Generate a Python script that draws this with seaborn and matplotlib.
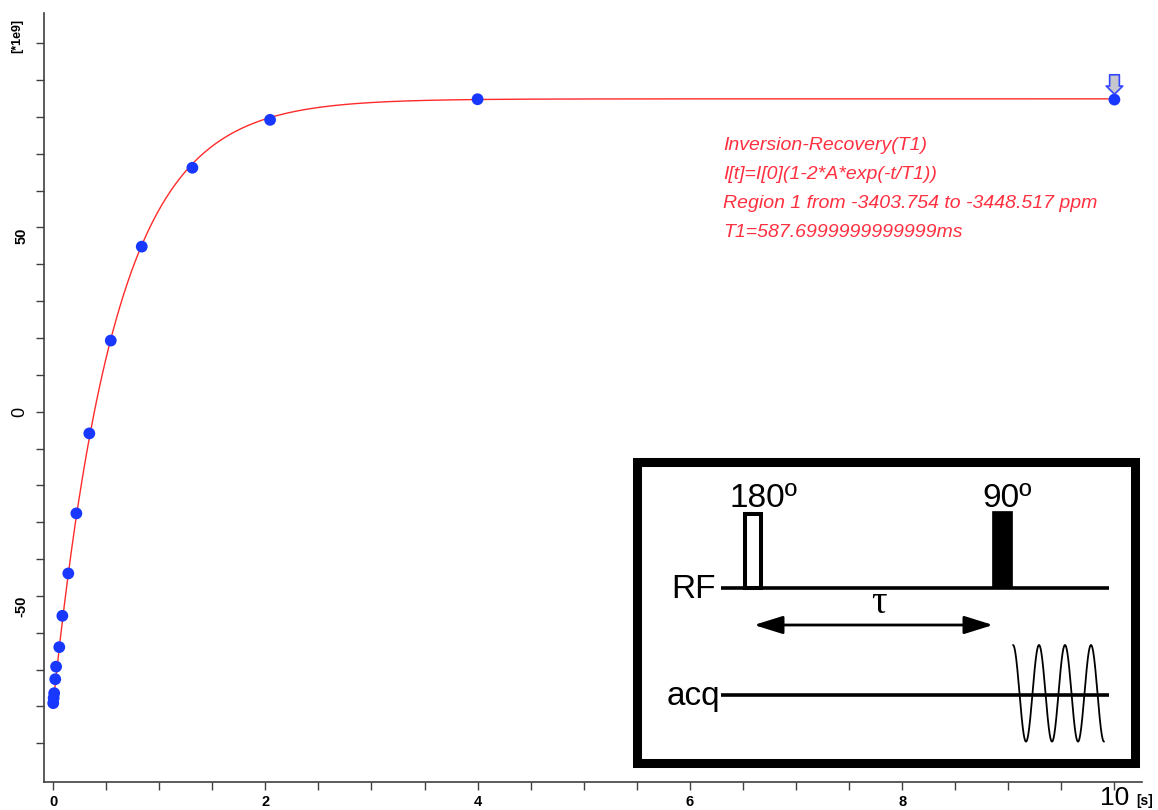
import numpy as np
import matplotlib
matplotlib.use("Agg")
import matplotlib.pyplot as plt
import matplotlib.transforms as mtransforms
from matplotlib.path import Path
from matplotlib.patches import Rectangle, FancyArrowPatch
import seaborn as sns

# Inversion-recovery delays (s) and integrated intensities (x1e9)
delay_s = [0.002, 0.006, 0.011, 0.021, 0.029, 0.059, 0.088, 0.144,
           0.220, 0.342, 0.544, 0.836, 1.313, 2.045, 4.0, 10.0]
intensity = [-79.1, -77.7, -76.4, -72.6, -69.2, -63.9, -55.4, -43.9,
             -27.6, -5.9, 19.3, 44.8, 66.2, 79.2, 84.8, 84.7]

# Fitted model: I[t] = I[0](1 - 2*A*exp(-t/T1))
fit_I0 = 84.9
fit_A = 0.970
fit_T1_s = 0.5877

fit_lines = [
    "Inversion-Recovery(T1)",
    "I[t]=I[0](1-2*A*exp(-t/T1))",
    "Region 1 from -3403.754 to -3448.517 ppm",
    "T1=587.6999999999999ms",
]

x_ticks = np.arange(0, 10.01, 0.5)
x_labelled = [0, 2, 4, 6, 8]
x_last_label = 10
y_ticks = np.arange(-90, 101, 10)
y_labelled = [-50, 0, 50]

sns.set_theme(style="white")
plt.rcParams["font.family"] = ["Liberation Sans", "DejaVu Sans"]
plt.rcParams["text.color"] = "black"

W, H = 1158, 810
fig = plt.figure(figsize=(W / 100, H / 100), dpi=100)


def px_box(x0, y0, x1, y1):
    return [x0 / W, 1 - y1 / H, (x1 - x0) / W, (y1 - y0) / H]


ax = fig.add_axes(px_box(44, 13, 1142, 782))
ax.set_facecolor("white")

# fitted recovery curve and measured points
t_fit = np.linspace(0, max(delay_s), 2000)
I_fit = fit_I0 * (1 - 2 * fit_A * np.exp(-t_fit / fit_T1_s))
sns.lineplot(x=t_fit, y=I_fit, ax=ax, color="#ff2a2a", lw=1.0,
             estimator=None, sort=False)
sns.scatterplot(x=delay_s, y=intensity, ax=ax, s=72, color="#1838ff",
                edgecolor="none", zorder=3)

# cursor arrow above the last point
arrow_path = Path([(-0.5, 1), (0.5, 1), (0.5, -0.16), (0.85, -0.16),
                   (0, -1), (-0.85, -0.16), (-0.5, -0.16), (-0.5, 1)],
                  closed=True)
arrow_trans = mtransforms.offset_copy(ax.transData, fig=fig, x=0, y=16,
                                      units="dots")
ax.plot([delay_s[-1]], [intensity[-1]], ls="none", marker=arrow_path,
        markersize=14, mfc="#c6c6cf", mec="#3446ff", mew=1.2,
        transform=arrow_trans, clip_on=False, zorder=4)

ax.set_xlim(-0.085, 10.26)
ax.set_ylim(-100.5, 108.2)

for side in ("top", "right"):
    ax.spines[side].set_visible(False)
for side in ("left", "bottom"):
    ax.spines[side].set_color("#404040")
    ax.spines[side].set_linewidth(1.2)

ax.set_xticks(x_ticks)
ax.set_xticklabels([("%g" % v) if v in x_labelled else "" for v in x_ticks])
ax.set_yticks(y_ticks)
ax.set_yticklabels([("%g" % v) if v in y_labelled else "" for v in y_ticks],
                   rotation=90)
ax.tick_params(axis="both", which="major", bottom=True, left=True,
               direction="out", length=6, width=1, color="#404040",
               labelsize=10.5, labelcolor="black")
ax.tick_params(axis="x", pad=3)
ax.tick_params(axis="y", pad=5)

for lab in ax.get_xticklabels():
    lab.set_fontweight("bold")

for lab in ax.get_yticklabels():
    if lab.get_text() == "0":
        lab.set_fontsize(13)
        lab.set_fontweight("normal")
        lab.set_va("center")
    else:
        lab.set_fontweight("bold")
        lab.set_va("top")

# end-of-axis label is drawn larger, next to the unit
ax.text(x_last_label, 1 - 805 / H, "%g" % x_last_label, fontsize=19,
        ha="center", va="baseline", clip_on=False,
        transform=mtransforms.blended_transform_factory(ax.transData,
                                                        fig.transFigure))

fig.text(17.5 / W, 1 - 36 / H, "[*1e9]", rotation=90, fontsize=9,
         fontweight="bold", ha="center", va="center")
fig.text(1145 / W, 1 - 801 / H, "[s]", fontsize=10, fontweight="bold",
         ha="center", va="center")

# fit report
for i, line in enumerate(fit_lines):
    fig.text(723 / W, 1 - (146 + 28.7 * i) / H, line, color="#ff3040",
             fontsize=14, style="italic", ha="left", va="center")

# pulse-sequence diagram
ins = fig.add_axes(px_box(628, 453, 1144, 772))
ins.set_xlim(628, 1144)
ins.set_ylim(772, 453)
ins.axis("off")

ins.add_patch(Rectangle((637.2, 462.2), 1134.5 - 637.2, 762.5 - 462.2,
                        fc="white", ec="black", lw=6.5, joinstyle="miter"))

rf_y, acq_y = 588.3, 695.0
ins.plot([720.7, 1109], [rf_y, rf_y], color="black", lw=2.6,
         solid_capstyle="butt")
ins.plot([720.7, 1109], [acq_y, acq_y], color="black", lw=2.6,
         solid_capstyle="butt")

ins.add_patch(Rectangle((744.5, 513.8), 16, rf_y - 513.8, fc="white",
                        ec="black", lw=2.9, joinstyle="miter", zorder=3))
ins.add_patch(Rectangle((991.7, 511), 20, rf_y - 511, fc="black",
                        ec="black", lw=0.5, zorder=3))

ins.text(763, 507, "180º", fontsize=24, ha="center", va="baseline",
         color="black")
ins.text(1006.7, 507, "90º", fontsize=24, ha="center", va="baseline",
         color="black")
ins.text(716, 598.3, "RF", fontsize=24, ha="right", va="baseline",
         color="black")
ins.text(720, 705, "acq", fontsize=24, ha="right", va="baseline",
         color="black")
ins.text(879, 603, "τ", fontsize=28, ha="center", va="center",
         color="black", family=["Liberation Serif", "DejaVu Serif"])

ins.add_patch(FancyArrowPatch((754, 625), (993, 625),
                              arrowstyle="<|-|>,head_length=1.6,head_width=0.5",
                              mutation_scale=11, color="black", lw=2.0,
                              shrinkA=0, shrinkB=0))

s = np.linspace(0, 91, 400)
ins.plot(1013 + s, 693.3 - 48.3 * np.cos(2 * np.pi * s / 26), color="black",
         lw=1.3)

fig.savefig("out.png", dpi=100)
